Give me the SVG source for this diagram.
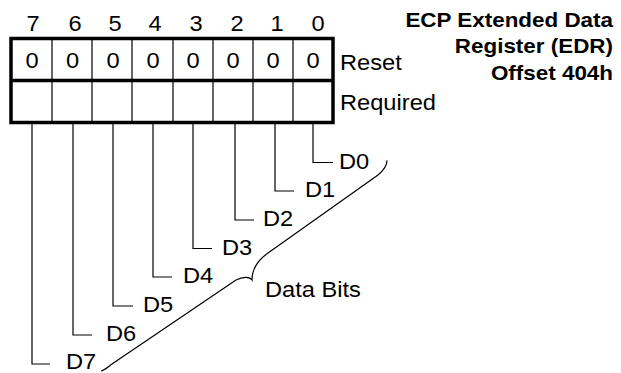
<svg xmlns="http://www.w3.org/2000/svg" width="621" height="373" viewBox="0 0 621 373">
<style>
.t{font-family:"Liberation Sans",Arial,sans-serif;font-size:21.5px;fill:#000}
.m{text-anchor:middle}
.b{font-family:"Liberation Sans",Arial,sans-serif;font-size:19.5px;font-weight:bold;fill:#000;text-anchor:end}
.thick{fill:none;stroke:#000;stroke-width:3.5}
.thin{fill:none;stroke:#000;stroke-width:1.2}
.c{fill:none;stroke:#000;stroke-width:1.2}
</style>
<rect width="621" height="373" fill="#fff"/>
<g id="title">
<text class="b" transform="translate(613,27) scale(1.15,1)">ECP Extended Data</text>
<text class="b" transform="translate(613,53) scale(1.15,1)">Register (EDR)</text>
<text class="b" transform="translate(613,80) scale(1.15,1)">Offset 404h</text>
</g>
<g id="bit-numbers">
<text class="t m" transform="translate(33,31) scale(1.1,1)">7</text>
<text class="t m" transform="translate(75,31) scale(1.1,1)">6</text>
<text class="t m" transform="translate(115,31) scale(1.1,1)">5</text>
<text class="t m" transform="translate(155,31) scale(1.1,1)">4</text>
<text class="t m" transform="translate(196,31) scale(1.1,1)">3</text>
<text class="t m" transform="translate(237,31) scale(1.1,1)">2</text>
<text class="t m" transform="translate(277,31) scale(1.1,1)">1</text>
<text class="t m" transform="translate(318,31) scale(1.1,1)">0</text>
</g>
<g id="register">
<path class="thin" d="M52,38V123M92,38V123M132,38V123M173,38V123M213,38V123M253,38V123M293,38V123"/>
<rect class="thick" x="11" y="38.5" width="322" height="84"/>
<line class="thick" x1="11" y1="80.5" x2="333" y2="80.5"/>
<text class="t m" transform="translate(32,68) scale(1.1,1)">0</text>
<text class="t m" transform="translate(72.5,68) scale(1.1,1)">0</text>
<text class="t m" transform="translate(113,68) scale(1.1,1)">0</text>
<text class="t m" transform="translate(153,68) scale(1.1,1)">0</text>
<text class="t m" transform="translate(193,68) scale(1.1,1)">0</text>
<text class="t m" transform="translate(233,68) scale(1.1,1)">0</text>
<text class="t m" transform="translate(273,68) scale(1.1,1)">0</text>
<text class="t m" transform="translate(313,68) scale(1.1,1)">0</text>
</g>
<g id="row-labels">
<text class="t" transform="translate(340,70) scale(1.1,1)">Reset</text>
<text class="t" transform="translate(340,110) scale(1.1,1)">Required</text>
</g>
<g id="connectors">
<path class="c" d="M313,124V162.5H333"/>
<path class="c" d="M275,124V191H294"/>
<path class="c" d="M235,124V220H254"/>
<path class="c" d="M193,124V248.5H212"/>
<path class="c" d="M153,124V277H172"/>
<path class="c" d="M113,124V306H133"/>
<path class="c" d="M73,124V335H92"/>
<path class="c" d="M32,124V364H50"/>
</g>
<g id="D0"><text class="t" transform="translate(339,168.5) scale(1.1,1)">D0</text></g>
<g id="D1"><text class="t" transform="translate(305,197) scale(1.1,1)">D1</text></g>
<g id="D2"><text class="t" transform="translate(263,226) scale(1.1,1)">D2</text></g>
<g id="D3"><text class="t" transform="translate(222,254.5) scale(1.1,1)">D3</text></g>
<g id="D4"><text class="t" transform="translate(183,283) scale(1.1,1)">D4</text></g>
<g id="D5"><text class="t" transform="translate(143,312) scale(1.1,1)">D5</text></g>
<g id="D6"><text class="t" transform="translate(106,341) scale(1.1,1)">D6</text></g>
<g id="D7"><text class="t" transform="translate(66,369) scale(1.1,1)">D7</text></g>
<g id="data-bits">
<path class="c" d="M387,160.5C387,166 384,170 378,175L268,253C258,260 252,268 252,280C250,277 244,276 236,280L112,364C108,367 105,370 101,371"/>
<text class="t" transform="translate(265,297) scale(1.1,1)">Data Bits</text>
</g>
</svg>
